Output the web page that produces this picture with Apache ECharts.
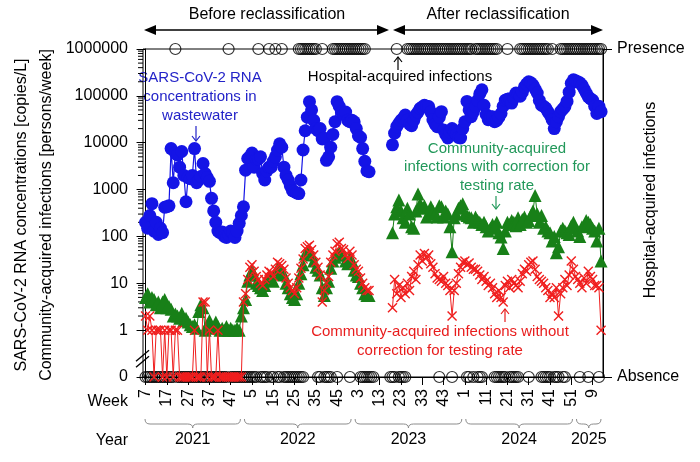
<!DOCTYPE html>
<html><head><meta charset="utf-8">
<script src="https://cdn.jsdelivr.net/npm/echarts@6/dist/echarts.min.js"></script>
<style>html,body{margin:0;padding:0;background:#fff}#c{width:700px;height:462px}</style>
</head><body><div id="c"></div>
<script>
// x = week index counted from 2021 week 7 (0) to 2025 week 13 (214)
const weekTickIdx = [0,10,20,30,40,50,60,70,80,90,100,110,120,130,140,150,160,170,180,190,200,210];
const weekLabels = ['7','17','27','37','47','5','15','25','35','45','3','13','23','33','43','1','11','21','31','41','51','9'];
const years = ['2021','2022','2023','2024','2025'];
const yearStart = [-1.2, 45.5, 97.5, 149.5, 201.5];
const yearEnd = [45.5, 97.5, 149.5, 201.5, 214.9];

const blueRNA = [200,150,280,500,130,200,110,150,120,420,
430,450,7500,1400,6000,5500,3000,6500,2000,550,
1800,1700,2000,7500,1400,1600,1900,3600,2200,1800,
1500,650,350,200,130,120,125,100,95,110,
130,120,95,130,190,280,430,2600,4600,5000,
6000,3000,4500,4500,5000,2200,1600,2500,3000,3000,
4000,5000,7000,9500,8000,3000,2000,1600,1200,950,
900,850,820,1600,7000,18000,35000,75000,50000,30000,
20000,18000,20000,12000,12500,4200,5000,8000,15000,28000,
75000,60000,45000,40000,45000,30000,28000,30000,28000,20000,
14000,13000,7500,4000,2500,2400,null,null,null,null,
null,null,null,null,null,null,9000,16000,22000,26000,
30000,33000,39000,30000,25000,23000,30000,39000,45000,54000,
58000,63000,60000,59000,45000,31000,25000,22000,35000,46000,
18600,15000,12600,17000,20000,17000,15000,13000,12600,20000,
28000,76000,50000,36000,45000,59000,80000,110000,135000,63000,
40000,31000,36000,36000,28000,30000,35000,42000,60000,81000,
85000,87000,70000,90000,115000,110000,98000,120000,155000,180000,
200000,190000,170000,140000,115000,80000,63000,60000,55000,46000,
39000,31000,20000,28000,36000,46000,52000,59000,76000,120000,
185000,220000,210000,200000,190000,170000,140000,115000,95000,87000,
81000,60000,42000,60000,46000];

const greenCorrected = [5,6,4,5,4.5,3.5,4,3,4,4.5,
3,3.2,2.8,2,2.2,2,1.8,2.3,1.6,1.8,
1.5,1.3,1.2,1.3,1.1,2.5,3.5,3,1,1.3,
1.6,1.2,1.1,1.5,1.2,1,1.1,1,1.2,1,
1.1,1,1,1.1,1,2,3,4.5,11,15,
19,15,10,9,8,7,9,12,14,13,
11,16,21,20,18,15,10,8,6,5,
4.5,6,10,16,25,42,45,50,40,30,
22,19,15,8,5.5,8,11,21,30,36,
42,45,40,40,30,26,36,30,19,15,
14,10,8,6,5.5,5.5,null,null,null,null,
null,null,null,null,null,null,120,300,430,600,
350,250,200,400,300,160,150,350,800,500,
400,450,260,300,430,350,300,260,450,430,
260,350,300,160,47,250,300,400,450,500,
300,280,260,250,200,260,220,200,180,200,
160,130,150,180,160,200,120,97,55,130,
200,180,220,200,170,250,180,230,260,200,
220,280,350,750,300,200,280,150,160,130,
120,80,100,45,60,130,150,130,120,110,
170,200,150,130,100,160,170,220,200,180,
150,130,80,150,30];

const redUncorrected = [2,1,2,1,0,1,1,1,0,1,
0,1,1,0,1,1,0,0,0,0,
0,0,0,1,0,0,0,4,4,0,
1,0,0,0,1,0,0,0,0,0,
0,0,0,0,0,0,4,6,12,22,
25,18,14,12,10,9,12,15,18,17,
14,20,28,26,24,20,13,10,8,7,
6,8,13,21,33,55,60,65,52,40,
28,22,15,4,7,10,14,28,40,48,
70,75,55,52,40,34,48,40,25,20,
18,13,10,8,7,7,null,null,null,null,
null,null,null,null,null,null,3,12,6,9,
5,8,6,10,7,14,18,12,25,40,
30,43,35,40,26,22,16,13,12,11,
14,10,9,7,2,7,10,16,22,28,
30,25,27,22,20,20,18,15,12,14,
11,9,10,8,6,5,7,5,4,9,
11,8,12,10,9,8,11,16,20,18,
25,28,30,20,14,12,11,10,8,7,
5,6,5,8,2,6,8,12,9,15,
30,20,14,12,10,8,13,10,18,14,
12,9,9,8,1];

// hospital-acquired infections: week-index ranges with presence / absence markers
const presenceRanges = [[14,14],[39,39],[53,53],[58,58],[61,61],[64,64],[72,80],[83,83],[88,103],[118,118],[123,153],[155,165],[170,170],[176,189],[191,191],[195,214]];
const absenceRanges = [[0,13],[15,38],[40,52],[54,57],[59,60],[62,63],[65,74],[81,82],[84,87],[90,90],[96,96],[101,107],[115,117],[119,122],[138,138],[144,144],[151,152],[154,154],[156,158],[164,169],[171,175],[180,180],[186,190],[192,194],[196,197],[204,204],[208,208],[213,213]];

const X_MIN = -1.2, X_MAX = 214.9;
const FONT = '"Liberation Sans", Arial, sans-serif';

function pairs(arr){ return arr.map((v,i)=> (v==null) ? [i,'-'] : [i, v===0 ? 0.1 : v]); }
function expand(ranges, level){ const out=[]; ranges.forEach(r=>{ for(let i=r[0];i<=r[1];i++) out.push([i, level]); }); return out; }
const minorTickVals = [];
for (let d=1; d<1e6; d*=10) for (let m=2; m<=9; m++) minorTickVals.push([X_MIN, m*d]);

const xSym = 'path://M1,0 L5,4 L9,0 L10,1 L6,5 L10,9 L9,10 L5,6 L1,10 L0,9 L4,5 L0,1 Z';

function arrowV(x, yTail, yHead, color){
  const dir = yHead > yTail ? 1 : -1;
  return [
    {type:'line', shape:{x1:x,y1:yTail,x2:x,y2:yHead}, style:{stroke:color,lineWidth:1.2}},
    {type:'polyline', shape:{points:[[x-4,yHead-5*dir],[x,yHead],[x+4,yHead-5*dir]]}, style:{stroke:color,lineWidth:1.2,fill:null}}
  ];
}
function dblArrow(x1, x2, y){
  return [
    {type:'line', shape:{x1:x1+8,y1:y,x2:x2-8,y2:y}, style:{stroke:'#000',lineWidth:1.5}},
    {type:'polygon', shape:{points:[[x1,y],[x1+12,y-5],[x1+12,y+5]]}, style:{fill:'#000'}},
    {type:'polygon', shape:{points:[[x2,y],[x2-12,y-5],[x2-12,y+5]]}, style:{fill:'#000'}}
  ];
}
function txt(x, y, text, color, size, extra){
  return Object.assign({type:'text', x:x, y:y, style:{text:text, fill:color, font:size+'px '+FONT, align:'center', verticalAlign:'middle', lineHeight: Math.round(size*1.25)}}, extra||{});
}

const graphicEls = [].concat(
  dblArrow(144, 389, 30),
  dblArrow(393, 603, 30),
  [txt(267, 15, 'Before reclassification', '#000', 16),
   txt(498, 15, 'After reclassification', '#000', 16),
   txt(200, 97, 'SARS-CoV-2 RNA\nconcentrations in\nwastewater', '#2323c8', 15, {style:{text:'SARS-CoV-2 RNA\nconcentrations in\nwastewater', fill:'#2323c8', font:'15px '+FONT, align:'center', verticalAlign:'middle', lineHeight:19}}),
   txt(400, 77, 'Hospital-acquired infections', '#000', 15),
   {type:'text', x:497, y:167, style:{text:'Community-acquired\ninfections with correction for\ntesting rate', fill:'#22985a', font:'15px '+FONT, align:'center', verticalAlign:'middle', lineHeight:18.5}},
   {type:'text', x:440, y:341, style:{text:'Community-acquired infections without\ncorrection for testing rate', fill:'#e81c1c', font:'15px '+FONT, align:'center', verticalAlign:'middle', lineHeight:19}},
   txt(22, 215, 'SARS-CoV-2 RNA concentrations [copies/L]', '#000', 16, {rotation: Math.PI/2}),
   txt(47, 215, 'Community-acquired infections [persons/week]', '#000', 16, {rotation: Math.PI/2}),
   txt(651, 200, 'Hospital-acquired infections', '#000', 16, {rotation: Math.PI/2}),
   {type:'text', x:128, y:402, style:{text:'Week', fill:'#000', font:'16px '+FONT, align:'right', verticalAlign:'middle'}},
   {type:'text', x:128, y:441, style:{text:'Year', fill:'#000', font:'16px '+FONT, align:'right', verticalAlign:'middle'}}
  ],
  arrowV(196, 126, 141, '#2323c8'),
  arrowV(398, 70, 57, '#000'),
  arrowV(496, 196, 209, '#22985a'),
  arrowV(505, 322, 309, '#e81c1c')
);

const chart = echarts.init(document.getElementById('c'));
chart.setOption({
  animation: false,
  backgroundColor: '#fff',
  grid: {left:143, right:97, top:49, bottom:85, show:true, borderColor:'#000', borderWidth:1, backgroundColor:'transparent'},
  xAxis: {
    type:'value', min:X_MIN, max:X_MAX,
    axisLine:{show:true, lineStyle:{color:'#000', width:1}},
    axisTick:{show:true, customValues: weekTickIdx, length:8, lineStyle:{color:'#000'}},
    axisLabel:{show:true, customValues: weekTickIdx, rotate:90, margin:12, color:'#000', fontSize:16, fontFamily:FONT,
      formatter: v => { const k = weekTickIdx.indexOf(Math.round(v)); return k>=0 ? weekLabels[k] : ''; }},
    splitLine:{show:false}
  },
  yAxis: [
    {type:'log', logBase:10, min:0.1, max:1e6, splitNumber:7,
     axisLine:{show:true, lineStyle:{color:'#000', width:1}},
     axisTick:{show:true, length:9, lineStyle:{color:'#000'}},
     axisLabel:{color:'#000', fontSize:16, fontFamily:FONT, margin:15,
       formatter: v => v < 0.5 ? '0' : String(Math.round(v))},
     splitLine:{show:false}, minorTick:{show:false}},
    {type:'value', min:0, max:1, interval:1, position:'right',
     axisLine:{show:true, lineStyle:{color:'#000', width:1}},
     axisTick:{show:true, length:9, lineStyle:{color:'#000'}},
     axisLabel:{color:'#000', fontSize:16, fontFamily:FONT, margin:14,
       formatter: v => v > 0.5 ? 'Presence' : 'Absence'},
     splitLine:{show:false}}
  ],
  graphic: {elements: graphicEls},
  series: [
    { // minor log ticks
      type:'custom', clip:false, silent:true, z:1, data:minorTickVals, encode:{x:0,y:1},
      renderItem:(params, api) => {
        const p = api.coord([X_MIN, api.value(1)]);
        return {type:'line', shape:{x1:p[0]-5, y1:p[1], x2:p[0], y2:p[1]}, style:{stroke:'#000', lineWidth:1}};
      }
    },
    { // axis break mark
      type:'custom', clip:false, silent:true, z:10, data:[[X_MIN, 0.24]], encode:{x:0,y:1},
      renderItem:(params, api) => {
        const p = api.coord([X_MIN, 0.24]);
        return {type:'group', children:[
          {type:'line', shape:{x1:p[0]-7,y1:p[1]+2,x2:p[0]+6,y2:p[1]-9}, style:{stroke:'#000',lineWidth:1.3}},
          {type:'line', shape:{x1:p[0]-7,y1:p[1]+8,x2:p[0]+6,y2:p[1]-3}, style:{stroke:'#000',lineWidth:1.3}}
        ]};
      }
    },
    { // year braces
      type:'custom', clip:false, silent:true, z:1,
      data: years.map((y,i)=>[yearStart[i], yearEnd[i]]), encode:{x:[0,1]},
      renderItem:(params, api) => {
        const i = params.dataIndex;
        const yb = api.coord([X_MIN, 0.1])[1];
        const x1 = api.coord([api.value(0), 1])[0] + 2;
        const x2 = api.coord([api.value(1), 1])[0] - 2;
        const xm = (x1 + x2) / 2, y = yb + 47, r = 5;
        const st = {stroke:'#8c8c8c', lineWidth:1, fill:null};
        return {type:'group', children:[
          {type:'bezierCurve', shape:{x1:x1,y1:y-5,x2:x1+r,y2:y,cpx1:x1,cpy1:y}, style:st},
          {type:'line', shape:{x1:x1+r,y1:y,x2:xm-r,y2:y}, style:st},
          {type:'bezierCurve', shape:{x1:xm-r,y1:y,x2:xm,y2:y+4,cpx1:xm,cpy1:y}, style:st},
          {type:'bezierCurve', shape:{x1:xm,y1:y+4,x2:xm+r,y2:y,cpx1:xm,cpy1:y}, style:st},
          {type:'line', shape:{x1:xm+r,y1:y,x2:x2-r,y2:y}, style:st},
          {type:'bezierCurve', shape:{x1:x2-r,y1:y,x2:x2,y2:y-5,cpx1:x2,cpy1:y}, style:st},
          {type:'text', x:xm, y:yb+63, style:{text:years[i], fill:'#000', font:'16px '+FONT, align:'center', verticalAlign:'middle'}}
        ]};
      }
    },
    {name:'Absence', type:'scatter', yAxisIndex:1, clip:false, z:3, data:expand(absenceRanges,0),
     symbol:'circle', symbolSize:11, itemStyle:{color:'rgba(255,255,255,0)', borderColor:'#000', borderWidth:1.2}},
    {name:'Presence', type:'scatter', yAxisIndex:1, clip:false, z:3, data:expand(presenceRanges,1),
     symbol:'circle', symbolSize:11, itemStyle:{color:'rgba(255,255,255,0)', borderColor:'#000', borderWidth:1.2}},
    {name:'Green', type:'line', z:4, data:pairs(greenCorrected), connectNulls:false,
     symbol:'triangle', symbolSize:13, showSymbol:true,
     itemStyle:{color:'#188018'}, lineStyle:{color:'#188018', width:1}},
    {name:'Red', type:'line', z:5, clip:false, data:pairs(redUncorrected), connectNulls:false,
     symbol:xSym, symbolSize:10, showSymbol:true,
     itemStyle:{color:'#f01e1e'}, lineStyle:{color:'#f01e1e', width:1}},
    {name:'Blue', type:'line', z:6, data:pairs(blueRNA), connectNulls:false,
     symbol:'circle', symbolSize:13, showSymbol:true,
     itemStyle:{color:'#1414e6'}, lineStyle:{color:'#1414e6', width:1.2}}
  ]
});
</script>
</body></html>
